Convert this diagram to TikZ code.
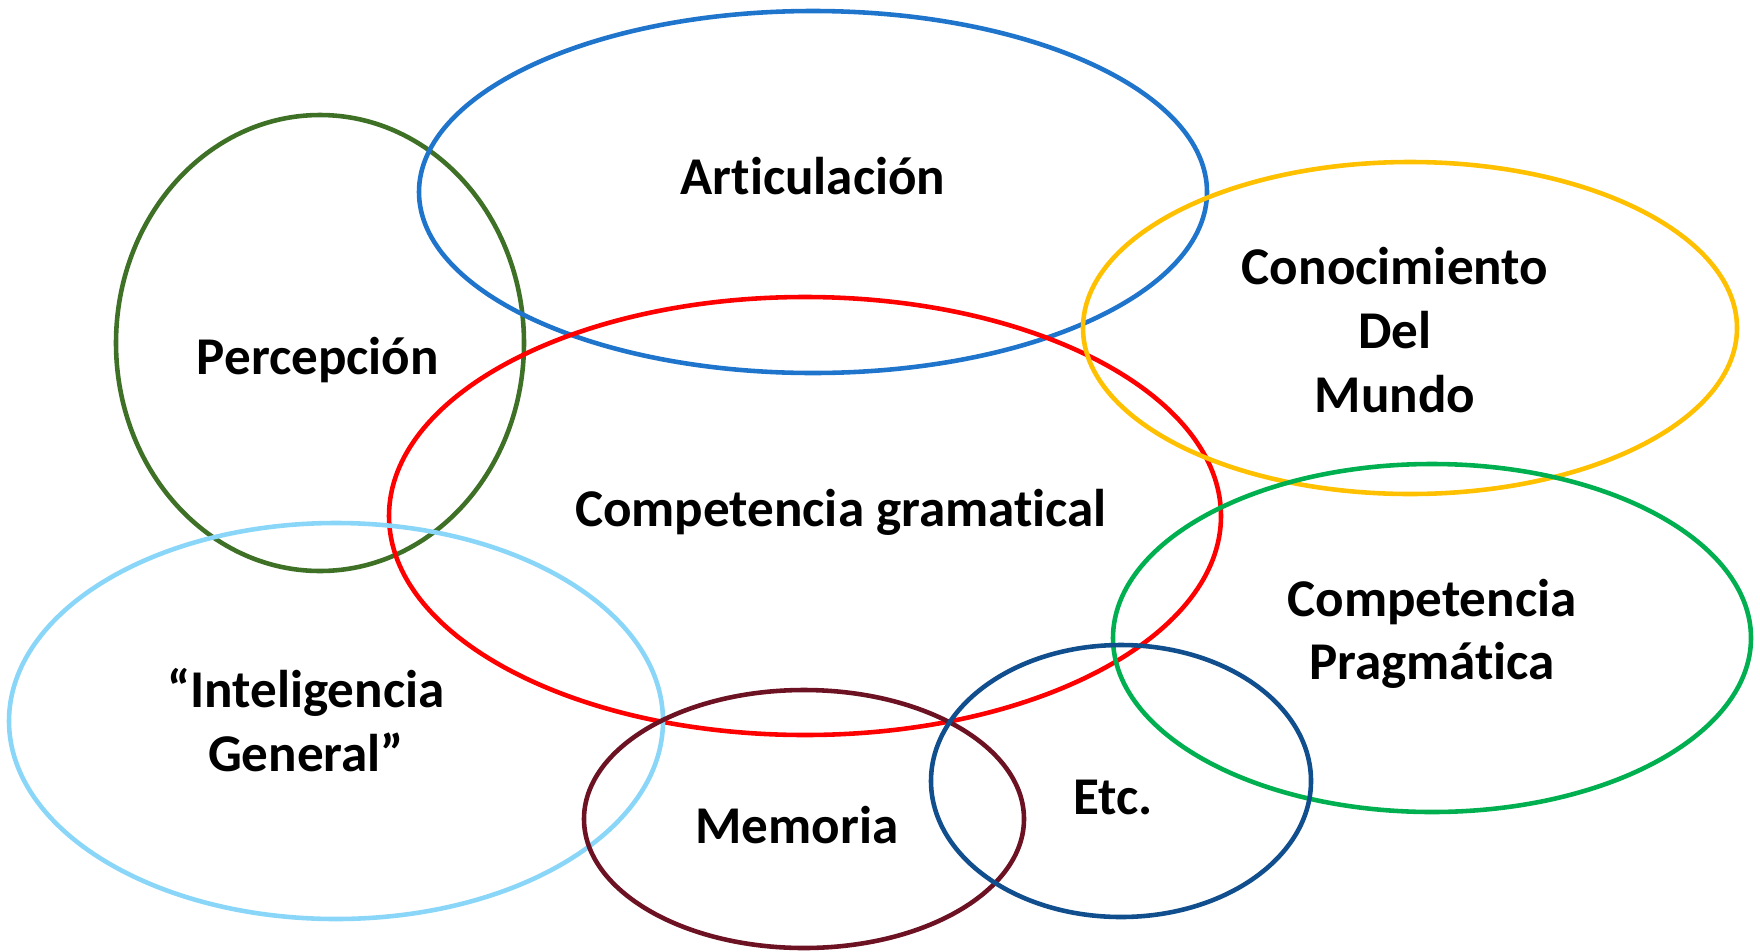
\documentclass[tikz,border=0pt]{standalone}
\usepackage{fontspec}
\setmainfont{Carlito}[Ligatures=NoCommon]
\usetikzlibrary{shapes.geometric}
\definecolor{artblue}{HTML}{1F74CC}
\definecolor{percgreen}{HTML}{3E7026}
\definecolor{gramred}{HTML}{FF0000}
\definecolor{mundoyellow}{HTML}{FFC000}
\definecolor{pragreen}{HTML}{00B050}
\definecolor{intblue}{HTML}{8AD6F8}
\definecolor{memred}{HTML}{6C1222}
\definecolor{etcblue}{HTML}{104E8E}
\tikzset{
  ring/.style={line width=1.3pt},
  tag/.style={font=\fontsize{15.1}{18.1}\selectfont\bfseries, align=center, inner sep=0pt}
}
\begin{document}
\begin{tikzpicture}[x=0.01cm,y=-0.01cm]
      \useasboundingbox (0,0) rectangle (1760,951);
      \begin{scope}[ring]
        \draw[percgreen] (320,343) ellipse [x radius=204, y radius=228];
        \draw[artblue] (813,192) ellipse [x radius=394, y radius=181];
        \draw[gramred] (805,516) ellipse [x radius=416, y radius=219];
        \draw[mundoyellow] (1410,328) ellipse [x radius=327, y radius=166];
        \draw[pragreen] (1432,638) ellipse [x radius=319, y radius=174];
        \draw[intblue] (336,721) ellipse [x radius=327, y radius=198];
        \draw[memred] (804,819) ellipse [x radius=220, y radius=129];
        \draw[etcblue] (1121,781) ellipse [x radius=190, y radius=136];
      \end{scope}
      \begin{scope}[tag]
        \node (art) at (813,176) {Articulación};
        \node (perc) at (318,360) {Percepción};
        \node (gram) at (841,512) {Competencia gramatical};
        \node (mundo) at (1395,330) {Conocimiento\\Del\\Mundo};
        \node (prag) at (1432,634) {Competencia\\Pragmática};
        \node (intel) at (306,720) {“Inteligencia\\General”};
        \node (mem) at (797,825) {Memoria};
        \node (etc) at (1113,797) {Etc.};
      \end{scope}
    \end{tikzpicture}
\end{document}
